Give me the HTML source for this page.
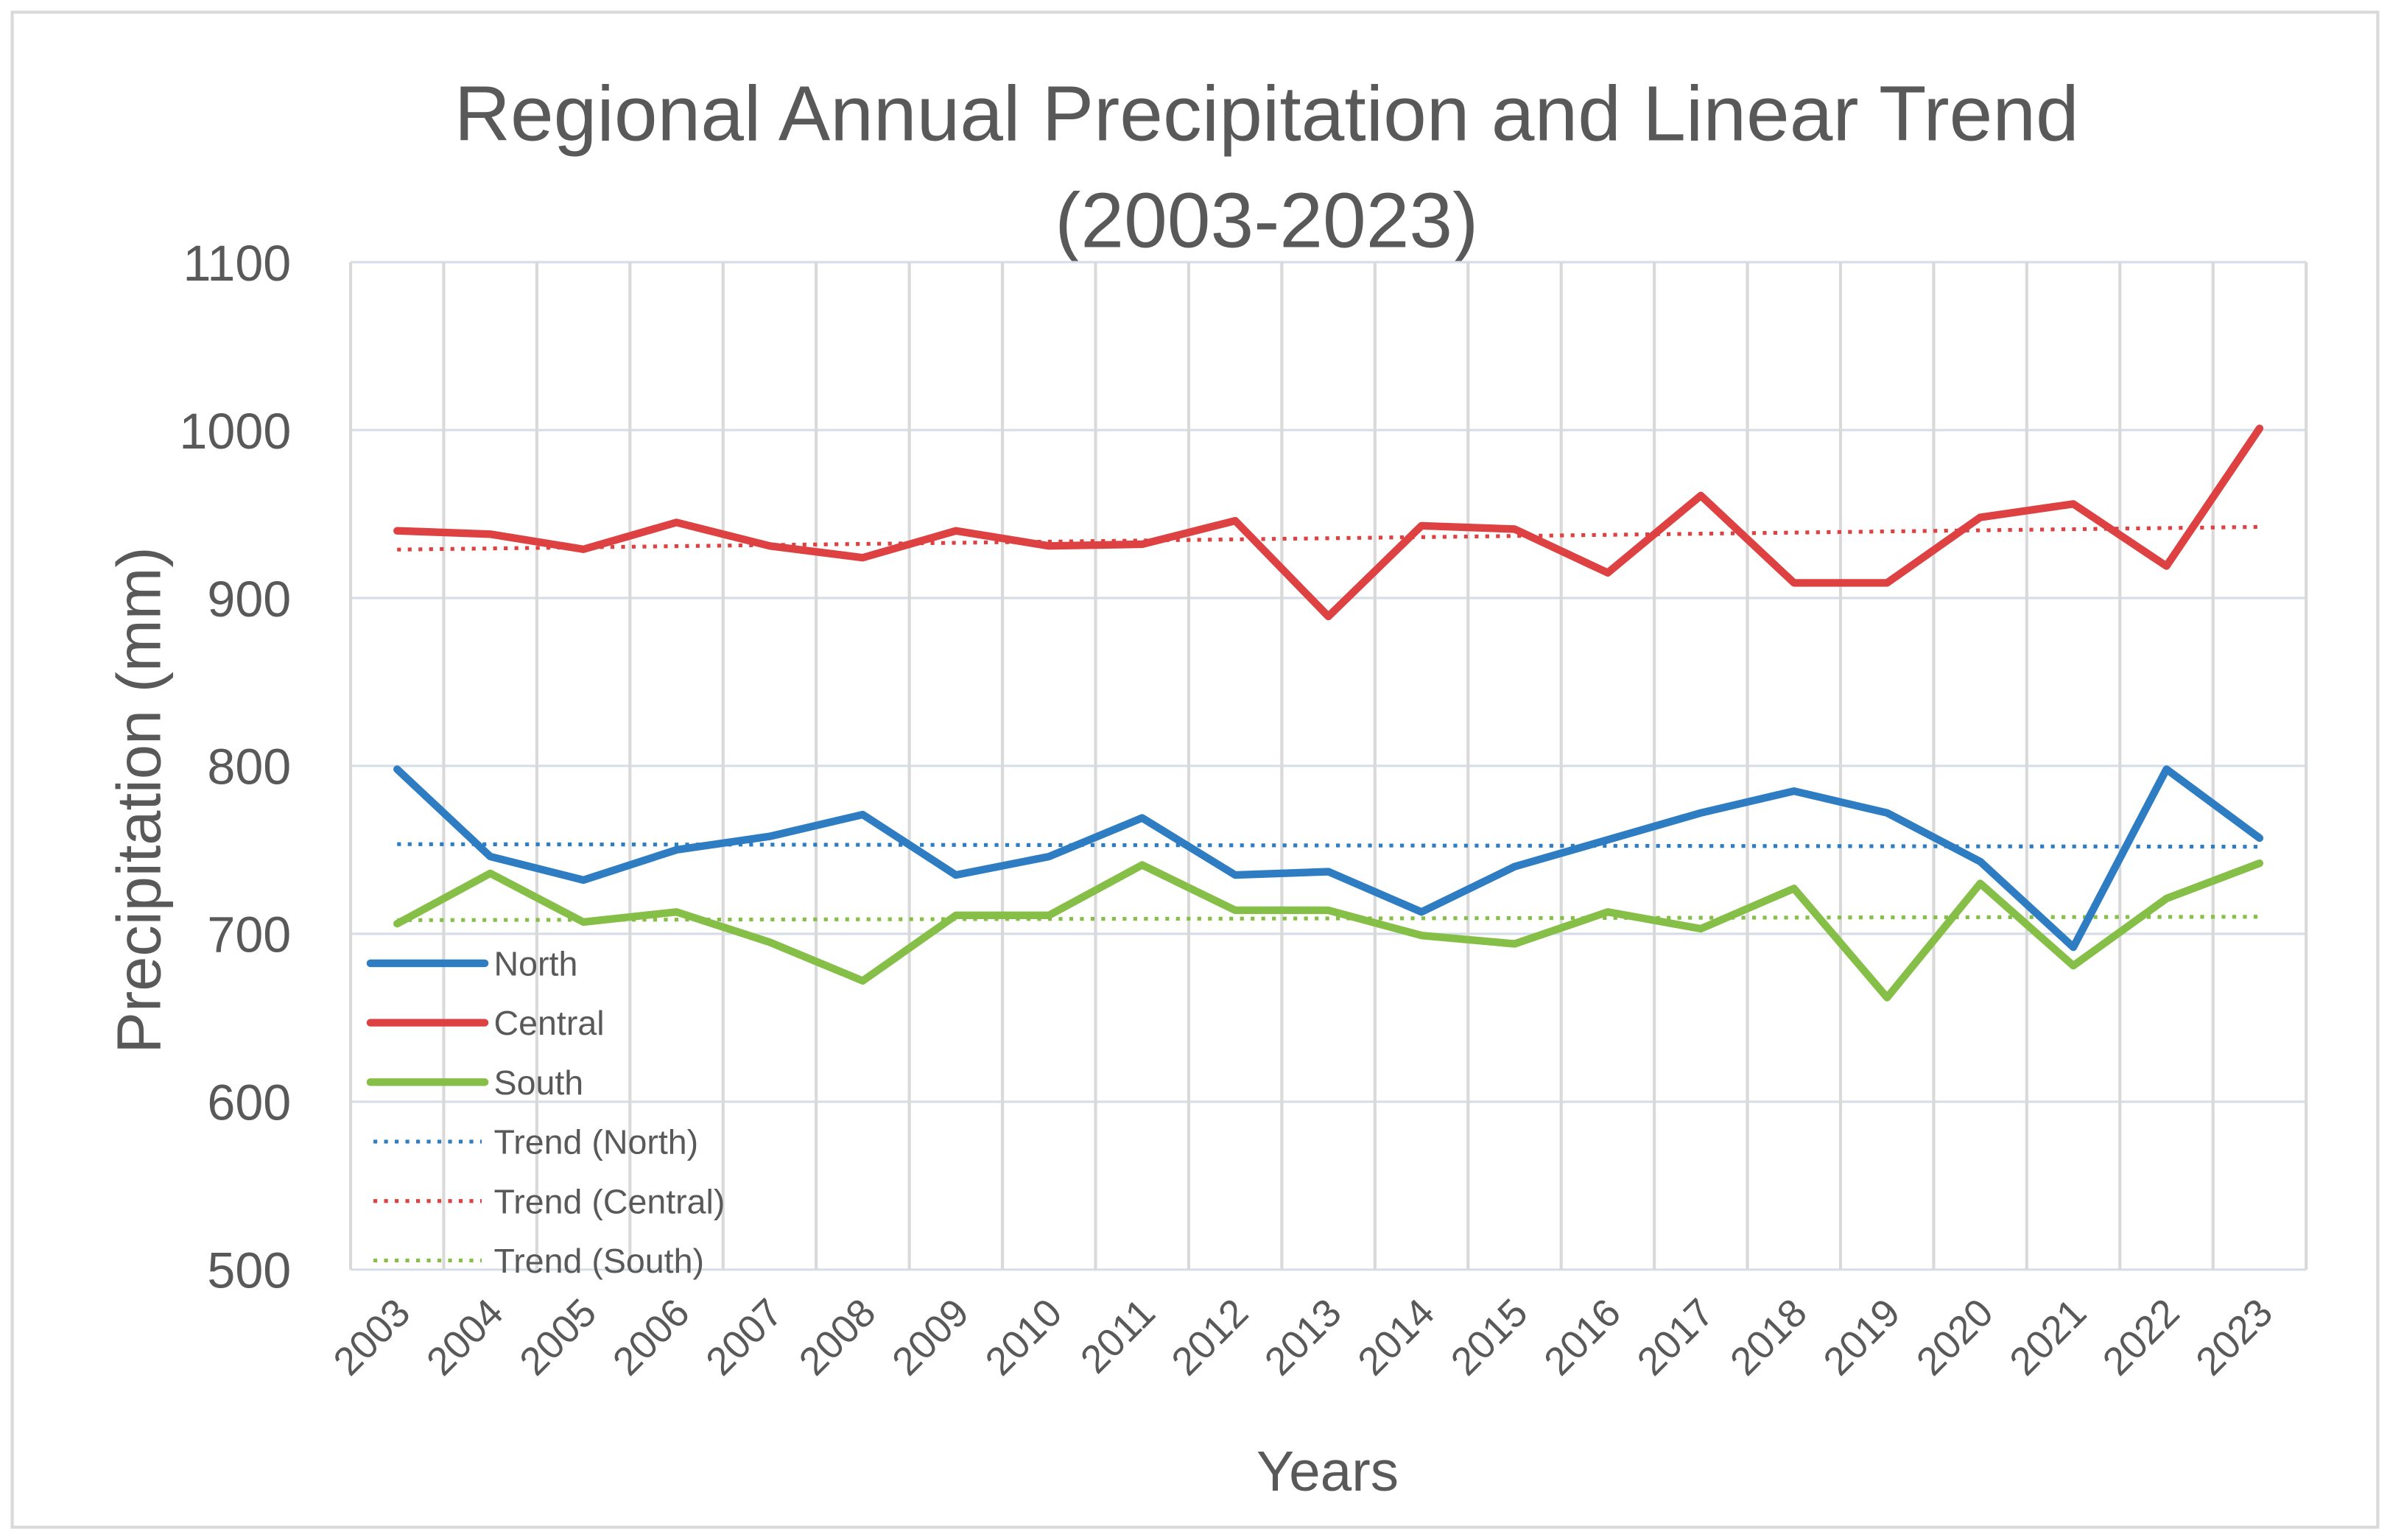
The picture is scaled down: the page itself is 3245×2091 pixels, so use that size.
<!DOCTYPE html>
<html><head><meta charset="utf-8"><style>
html,body{margin:0;padding:0;background:#fff;}
svg{display:block;font-family:"Liberation Sans","DejaVu Sans",sans-serif;}
</style></head><body>
<svg id="chart" width="3245" height="2091" viewBox="0 0 1568 1010.4" xmlns="http://www.w3.org/2000/svg">
<rect x="8" y="8" width="1552" height="994" fill="#fff" stroke="#d9d9d9" stroke-width="2"/>
<text x="831" y="92" text-anchor="middle" font-size="51" fill="#595959">Regional Annual Precipitation and Linear Trend</text>
<text x="831" y="162" text-anchor="middle" font-size="51" fill="#595959">(2003-2023)</text>
<g id="grid"></g>
<g id="yticks"></g>
<g id="xticks"></g>
<g id="series"></g>
<text transform="translate(105,525) rotate(-90)" text-anchor="middle" font-size="41" fill="#595959">Precipitation (mm)</text>
<text x="871" y="978" text-anchor="middle" font-size="37" fill="#595959">Years</text>
<g id="legend"></g>
</svg>
<script>
const years = [2003,2004,2005,2006,2007,2008,2009,2010,2011,2012,2013,2014,2015,2016,2017,2018,2019,2020,2021,2022,2023];
const north = [798,746,732,750,758,771,735,746,769,735,737,713,740,756,772,785,772,743,692,798,757];
const central = [940,938,929,945,931,924,940,931,932,946,889,943,941,915,961,909,909,948,956,919,1001];
const south = [706,736,707,713,695,672,711,711,741,714,714,699,694,713,703,727,662,730,681,721,742];
const yTicks = [500,600,700,800,900,1000,1100];

const NS="http://www.w3.org/2000/svg";
const L=230,R=1513,T=172,B=833,ymin=500,ymax=1100;
const cw=(R-L)/years.length;
const xs=i=>L+cw*(i+0.5);
const ys=v=>B-(v-ymin)/(ymax-ymin)*(B-T);
function mk(tag,attrs,parent){const e=document.createElementNS(NS,tag);for(const k in attrs)e.setAttribute(k,attrs[k]);parent.appendChild(e);return e;}
const grid=document.getElementById('grid');
yTicks.forEach(t=>{
  const g=mk('line',{x1:L,x2:R,y1:ys(t),y2:ys(t),stroke:'#d5dde8','stroke-width':1.5},grid);
  
  
  const tx=mk('text',{x:191,y:ys(t)+12,'text-anchor':'end','font-size':33,fill:'#595959'},document.getElementById('yticks'));
  tx.textContent=t;
  
  
});
for(let i=0;i<=years.length;i++){
  const g=mk('line',{x1:L+cw*i,x2:L+cw*i,y1:T,y2:B,stroke:'#d9d9d9','stroke-width':2},grid);
  
  
}
years.forEach((yr,i)=>{
  const x=xs(i)+10,y=B+30;
  const tx=mk('text',{x:x,y:y,'text-anchor':'end','font-size':26,fill:'#595959',transform:`rotate(-45 ${x} ${y})`},document.getElementById('xticks'));
  tx.textContent=yr;
  
  
});
function trend(vals){const n=vals.length;let sx=0,sy=0,sxy=0,sxx=0;vals.forEach((v,i)=>{sx+=i;sy+=v;sxy+=i*v;sxx+=i*i;});const b=(n*sxy-sx*sy)/(n*sxx-sx*sx);const a=(sy-b*sx)/n;return [a,a+b*(n-1)];}
const ser=document.getElementById('series');
const defs=[['north',north,'#2e7dc2'],['central',central,'#dd4141'],['south',south,'#86bf47']];
defs.forEach(([nm,vals,col])=>{
  const tr=trend(vals);
  const t=mk('line',{x1:xs(0),x2:xs(vals.length-1),y1:ys(tr[0]),y2:ys(tr[1]),stroke:col,'stroke-width':2.5,'stroke-dasharray':'2.5 4.5'},ser);
  
  
});
defs.forEach(([nm,vals,col])=>{
  const p=mk('polyline',{points:vals.map((v,i)=>xs(i)+','+ys(v)).join(' '),fill:'none',stroke:col,'stroke-width':5,'stroke-linejoin':'round','stroke-linecap':'round'},ser);
  
  
});
const leg=document.getElementById('legend');
const items=[['North','#2e7dc2',0],['Central','#dd4141',0],['South','#86bf47',0],['Trend (North)','#2e7dc2',1],['Trend (Central)','#dd4141',1],['Trend (South)','#86bf47',1]];
items.forEach(([label,col,dot],i)=>{
  const y=632+i*39;
  const ln=mk('line',{x1:dot?245:243,x2:dot?316:318,y1:y,y2:y,stroke:col,'stroke-width':dot?2.5:5,'stroke-dasharray':dot?'2.5 4.5':'none','stroke-linecap':dot?'butt':'round'},leg);
  
  
  const tx=mk('text',{x:324,y:y+8,'font-size':22.5,fill:'#595959'},leg);
  tx.textContent=label;
  
  
});
</script>
</body></html>
